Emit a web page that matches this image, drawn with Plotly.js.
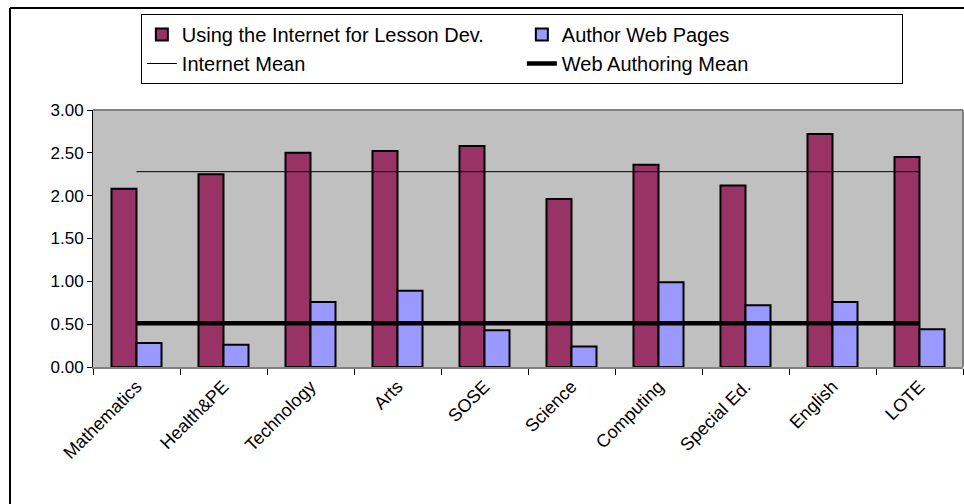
<!DOCTYPE html>
<html>
<head>
<meta charset="utf-8">
<script src="https://cdn.plot.ly/plotly-3.0.1.min.js"></script>
<style>html,body{margin:0;padding:0;background:#fff;}#chart{width:964px;height:504px;}</style>
</head>
<body>
<div id="chart"></div>
<script>
var categories = ["Mathematics","Health&PE","Technology","Arts","SOSE","Science","Computing","Special Ed.","English","LOTE"];
var internetUse = [2.08,2.25,2.50,2.52,2.58,1.96,2.36,2.12,2.72,2.45];
var webAuthoring = [0.28,0.26,0.76,0.89,0.43,0.24,0.99,0.72,0.76,0.44];
var internetMean = 2.28;
var webAuthoringMean = 0.51;
var yTicks = [0,0.5,1,1.5,2,2.5,3];

var meanX = [categories[0], categories[categories.length-1]];

var traces = [
  {type:'bar', name:'Using the Internet for Lesson Dev.', x:categories, y:internetUse,
   marker:{color:'#993366', line:{color:'#000', width:2}}},
  {type:'bar', name:'Author Web Pages', x:categories, y:webAuthoring,
   marker:{color:'#9999FF', line:{color:'#000', width:2}}},
  {type:'scatter', mode:'lines', name:'Internet Mean', x:meanX, y:[internetMean, internetMean],
   line:{color:'#000', width:1}},
  {type:'scatter', mode:'lines', name:'Web Authoring Mean', x:meanX, y:[webAuthoringMean, webAuthoringMean],
   line:{color:'#000', width:4.5}}
];

var layout = {
  width:964, height:504,
  margin:{l:93, r:1, t:110, b:137},
  paper_bgcolor:'#fff', plot_bgcolor:'#C0C0C0',
  font:{family:'Liberation Sans, Arial, sans-serif', color:'#000', size:17},
  barmode:'group', bargap:0.425, bargroupgap:0,
  showlegend:true,
  legend:{orientation:'h', x:0.055, xanchor:'left', y:1.3735, yanchor:'top',
    bgcolor:'#fff', bordercolor:'#000', borderwidth:1,
    font:{size:20, family:'Liberation Sans, Arial, sans-serif'},
    entrywidth:335, tracegroupgap:0, traceorder:'normal'},
  xaxis:{type:'category', tickson:'boundaries', ticks:'outside', ticklen:6, tickcolor:'#000',
    tickangle:-45, showline:true, linecolor:'#808080', linewidth:2, showgrid:false,
    tickfont:{size:18}, range:[-0.5, 9.5], fixedrange:true},
  yaxis:{range:[0,3], tickvals:yTicks, tickformat:'.2f', ticks:'outside', ticklen:5, tickcolor:'#000',
    showline:true, linecolor:'#000', linewidth:1, showgrid:false, zeroline:false,
    tickfont:{size:17}, fixedrange:true},
  shapes:[
    {type:'line', xref:'paper', yref:'paper', x0:0, x1:1, y0:1, y1:1, line:{color:'#808080', width:2}},
    {type:'line', xref:'paper', yref:'paper', x0:1, x1:1, y0:0, y1:1, line:{color:'#808080', width:2}},
    {type:'line', xref:'paper', yref:'paper', x0:-0.0954, x1:1.01, y0:1.3968, y1:1.3968, line:{color:'#000', width:2}},
    {type:'line', xref:'paper', yref:'paper', x0:-0.0954, x1:-0.0954, y0:-0.6, y1:1.3968, line:{color:'#000', width:2}}
  ]
};

Plotly.newPlot('chart', traces, layout, {displayModeBar:false, staticPlot:true});
</script>
</body>
</html>
